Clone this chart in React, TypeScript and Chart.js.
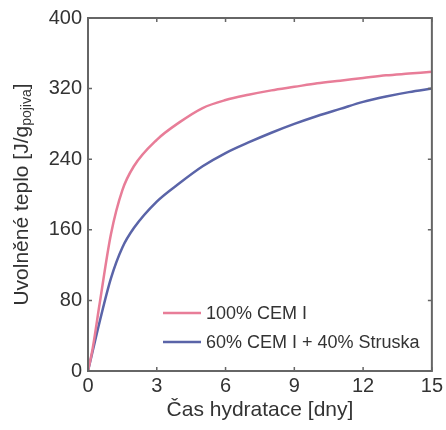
import React, { useEffect, useRef } from "react";
import { Chart, registerables } from "chart.js";

Chart.register(...registerables);

const days = [0, 0.2, 0.5, 1, 1.5, 2, 3, 4, 5, 6, 7, 8, 9, 10, 11, 12, 13, 14, 15];
const cem100 = [0, 25, 75, 155, 205, 232, 262, 282, 298, 307, 313, 318, 322, 326, 329, 332, 335, 337, 339];
const cem60slag40 = [0, 22, 55, 105, 140, 162, 192, 213, 232, 247, 259, 270, 280, 289, 297, 305, 311, 316, 320];
const seriesNames = ["100% CEM I", "60% CEM I + 40% Struska"];
const seriesColors = ["#e87d98", "#5a64a8"];
const xTitle = "Čas hydratace [dny]";
const yTitleMain = "Uvolněné teplo [J/g";
const yTitleSub = "pojiva";
const yTitleEnd = "]";

const FONT = "'Liberation Sans', Arial, sans-serif";
const TEXT = "#333333";
const FRAME = "#666666";

const framePlugin = {
  id: "framePlugin",
  afterDraw(chart: any) {
    const { ctx, chartArea } = chart;
    const { left, right, top, bottom } = chartArea;
    const xs = chart.scales.x;
    const ys = chart.scales.y;
    ctx.save();
    ctx.strokeStyle = FRAME;
    ctx.lineWidth = 2;
    ctx.strokeRect(left, top, right - left, bottom - top);
    ctx.lineWidth = 1.5;
    ctx.beginPath();
    xs.ticks.forEach((t: any) => {
      const px = xs.getPixelForValue(t.value);
      ctx.moveTo(px, bottom);
      ctx.lineTo(px, bottom - 4);
      ctx.moveTo(px, top);
      ctx.lineTo(px, top + 4);
    });
    ys.ticks.forEach((t: any) => {
      const py = ys.getPixelForValue(t.value);
      ctx.moveTo(left, py);
      ctx.lineTo(left + 4, py);
      ctx.moveTo(right, py);
      ctx.lineTo(right - 4, py);
    });
    ctx.stroke();

    // legend
    const legY = [313, 342];
    ctx.font = `18px ${FONT}`;
    ctx.textBaseline = "middle";
    ctx.textAlign = "left";
    seriesNames.forEach((name, i) => {
      ctx.strokeStyle = seriesColors[i];
      ctx.lineWidth = 2.5;
      ctx.beginPath();
      ctx.moveTo(163, legY[i]);
      ctx.lineTo(201, legY[i]);
      ctx.stroke();
      ctx.fillStyle = TEXT;
      ctx.fillText(name, 206, legY[i] + 1);
    });

    // x title
    ctx.font = `21px ${FONT}`;
    ctx.textAlign = "center";
    ctx.fillStyle = TEXT;
    ctx.fillText(xTitle, (left + right) / 2, 410);

    // y title with subscript
    ctx.translate(22, (top + bottom) / 2);
    ctx.rotate(-Math.PI / 2);
    const mainFont = `21px ${FONT}`;
    const subFont = `14px ${FONT}`;
    ctx.font = mainFont;
    const w1 = ctx.measureText(yTitleMain).width;
    const w3 = ctx.measureText(yTitleEnd).width;
    ctx.font = subFont;
    const w2 = ctx.measureText(yTitleSub).width;
    const total = w1 + w2 + w3;
    let x0 = -total / 2;
    ctx.textAlign = "left";
    ctx.font = mainFont;
    ctx.fillText(yTitleMain, x0, 0);
    x0 += w1;
    ctx.font = subFont;
    ctx.fillText(yTitleSub, x0, 5);
    x0 += w2;
    ctx.font = mainFont;
    ctx.fillText(yTitleEnd, x0, 0);
    ctx.restore();
  },
};

export default function App() {
  const ref = useRef<HTMLCanvasElement>(null);
  useEffect(() => {
    document.body.style.margin = "0";
    const mk = (vals: number[]) => days.map((d, i) => ({ x: d, y: vals[i] }));
    const chart = new Chart(ref.current as HTMLCanvasElement, {
      type: "line",
      data: {
        datasets: [
          {
            label: seriesNames[0],
            data: mk(cem100),
            borderColor: seriesColors[0],
            borderWidth: 2.5,
            pointRadius: 0,
            cubicInterpolationMode: "monotone",
          },
          {
            label: seriesNames[1],
            data: mk(cem60slag40),
            borderColor: seriesColors[1],
            borderWidth: 2.5,
            pointRadius: 0,
            cubicInterpolationMode: "monotone",
          },
        ],
      },
      options: {
        animation: false,
        responsive: false,
        maintainAspectRatio: false,
        layout: { padding: { top: 17, right: 9, left: 0, bottom: 0 } },
        plugins: { legend: { display: false }, tooltip: { enabled: false } },
        scales: {
          x: {
            type: "linear",
            min: 0,
            max: 15,
            ticks: { stepSize: 3, color: TEXT, font: { family: FONT, size: 20 }, padding: 3 },
            grid: { display: false, drawTicks: false },
            border: { display: false },
            afterFit: (s: any) => { s.height = 59; },
          },
          y: {
            min: 0,
            max: 400,
            ticks: { stepSize: 80, color: TEXT, font: { family: FONT, size: 20 }, padding: 6 },
            grid: { display: false, drawTicks: false },
            border: { display: false },
            afterFit: (s: any) => { s.width = 88; },
          },
        },
      },
      plugins: [framePlugin],
    } as any);
    return () => chart.destroy();
  }, []);
  return <canvas ref={ref} width={446} height={430} style={{ display: "block" }} />;
}
